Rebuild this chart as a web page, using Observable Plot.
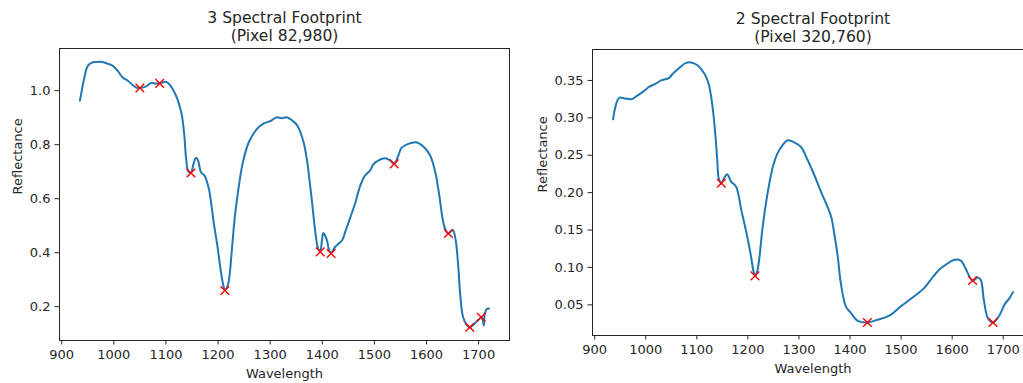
<!DOCTYPE html>
<html><head><meta charset="utf-8">
<script src="https://cdn.jsdelivr.net/npm/d3@7"></script>
<script src="https://cdn.jsdelivr.net/npm/@observablehq/plot@0.6"></script>
<style>
html,body{margin:0;padding:0;background:#fff;width:1023px;height:383px;overflow:hidden;position:relative;}
#left,#right{position:absolute;top:0;width:520px;height:383px;}
#left{left:0px} #right{left:520px}
svg{max-width:none !important;}
</style></head><body>
<div id="left"></div><div id="right"></div>
<script>
// ---- data ----
const xTicks = [900, 1000, 1100, 1200, 1300, 1400, 1500, 1600, 1700];
const xLabel = "Wavelength";
const yLabel = "Reflectance";

const fp3Title = "3 Spectral Footprint\n(Pixel 82,980)";
const fp3Wavelength = [935,945,950,958,966,975,988,998,1008,1017,1027,1036,1045,1050,1062,1071,1080,1088,1100,1109,1116,1122,1130,1135,1139,1143,1148,1153,1158,1162,1167,1174,1178,1183,1192,1199,1205,1210,1213,1217,1221,1227,1232,1237,1247,1259,1275,1288,1300,1312,1322,1333,1342,1352,1364,1370,1374,1380,1387,1392,1396,1399,1402,1405,1409,1413,1417,1425,1438,1444,1454,1463,1473,1482,1492,1498,1508,1520,1530,1538,1546,1552,1565,1580,1594,1607,1616,1624,1632,1638,1642,1647,1651,1656,1661,1665,1670,1677,1683,1688,1693,1699,1705,1708,1710,1712,1716,1720];
const fp3Reflectance = [0.963,1.062,1.092,1.104,1.106,1.107,1.100,1.092,1.072,1.049,1.037,1.021,1.010,1.010,1.016,1.028,1.027,1.027,1.033,1.018,0.995,0.969,0.914,0.840,0.742,0.700,0.697,0.730,0.752,0.740,0.699,0.686,0.667,0.631,0.508,0.422,0.336,0.280,0.262,0.270,0.300,0.422,0.530,0.606,0.729,0.809,0.859,0.879,0.887,0.901,0.898,0.901,0.890,0.871,0.810,0.750,0.693,0.594,0.471,0.415,0.405,0.440,0.473,0.465,0.446,0.410,0.399,0.422,0.446,0.477,0.532,0.582,0.649,0.686,0.705,0.727,0.742,0.750,0.742,0.729,0.760,0.788,0.803,0.809,0.793,0.760,0.705,0.619,0.514,0.478,0.471,0.480,0.483,0.446,0.348,0.237,0.163,0.133,0.124,0.130,0.139,0.151,0.160,0.150,0.130,0.176,0.192,0.193];
const fp3PeakWavelength = [1050,1088,1148,1213,1396,1417,1538,1642,1683,1705];
const fp3PeakReflectance = [1.010,1.027,0.695,0.260,0.403,0.397,0.729,0.471,0.124,0.161];
const fp3YTicks = [0.2, 0.4, 0.6, 0.8, 1.0];

const fp2Title = "2 Spectral Footprint\n(Pixel 320,760)";
const fp2Wavelength = [936,940,945,949,959,972,982,995,1008,1021,1030,1045,1053,1066,1079,1089,1102,1115,1123,1129,1135,1140,1143,1148,1153,1159,1163,1167,1177,1187,1196,1205,1211,1214,1218,1222,1229,1239,1249,1258,1268,1278,1291,1304,1317,1330,1343,1353,1363,1369,1376,1382,1392,1402,1415,1434,1454,1476,1499,1525,1545,1558,1574,1587,1603,1617,1626,1640,1650,1656,1662,1670,1680,1691,1704,1711,1719];
const fp2Reflectance = [0.298,0.313,0.324,0.327,0.326,0.325,0.329,0.335,0.342,0.346,0.350,0.353,0.359,0.367,0.3735,0.374,0.370,0.359,0.346,0.324,0.288,0.244,0.219,0.2125,0.219,0.2245,0.221,0.2147,0.208,0.177,0.150,0.119,0.095,0.0887,0.094,0.110,0.1545,0.201,0.235,0.2525,0.2636,0.270,0.267,0.261,0.2436,0.2236,0.2013,0.1858,0.168,0.1457,0.1145,0.079,0.0477,0.0389,0.0286,0.0264,0.030,0.0353,0.0477,0.0611,0.0723,0.0834,0.0967,0.1034,0.110,0.109,0.099,0.0825,0.0865,0.0834,0.0567,0.0322,0.0264,0.0344,0.052,0.0576,0.067];
const fp2PeakWavelength = [1148,1214,1434,1640,1680];
const fp2PeakReflectance = [0.2125,0.0887,0.0264,0.0825,0.0264];
const fp2YTicks = [0.05, 0.10, 0.15, 0.20, 0.25, 0.30, 0.35];

// ---- drawing ----
function pad(values, frac = 0.05) {
  const [a, b] = d3.extent(values);
  const p = (b - a) * frac;
  return [a - p, b + p];
}
const xDomain = pad(fp3Wavelength.concat(fp2Wavelength));
const FONT = "DejaVu Sans";

function panel(o) {
  const series = o.wl.map((w, i) => ({w, r: o.refl[i]}));
  const peaks = o.mwl.map((w, i) => ({w, r: o.mrefl[i]}));
  const ink = "#262626";
  return Plot.plot({
    width: 520, height: 383,
    marginLeft: o.ml, marginRight: o.mr, marginTop: o.mt, marginBottom: o.mb,
    style: {fontFamily: FONT, fontSize: "13px", color: ink, background: "white", overflow: "visible", maxWidth: "none"},
    x: {domain: xDomain},
    y: {domain: pad(o.refl)},
    marks: [
      Plot.axisX({ticks: xTicks, tickFormat: d => String(d), tickSize: 4.5, tickPadding: 5, label: null, fontSize: 13}),
      Plot.axisY({ticks: o.yTicks, tickFormat: o.yFmt, tickSize: 4.5, tickPadding: 4.5, label: null, fontSize: 13}),
      Plot.line(series, {x: "w", y: "r", stroke: "#1f77b4", strokeWidth: 2, curve: "catmull-rom"}),
      Plot.dot(peaks, {x: "w", y: "r", symbol: "times", stroke: "red", r: 4, strokeWidth: 1.4}),
      Plot.frame({stroke: ink, strokeWidth: 1}),
      Plot.text([xLabel], {frameAnchor: "bottom", lineAnchor: "middle", dy: 33, fontSize: 13, fontFamily: FONT, fill: ink}),
      Plot.text([yLabel], {frameAnchor: "left", lineAnchor: "middle", rotate: -90, dx: o.ydx, fontSize: 13, fontFamily: FONT, fill: ink}),
      Plot.text([o.title], {frameAnchor: "top", lineAnchor: "bottom", dy: -7.5, fontSize: 15.6, lineHeight: 1.17, fontFamily: FONT, fill: ink})
    ]
  });
}

document.getElementById("left").append(panel({
  wl: fp3Wavelength, refl: fp3Reflectance, mwl: fp3PeakWavelength, mrefl: fp3PeakReflectance,
  title: fp3Title, yTicks: fp3YTicks, yFmt: ".1f",
  ml: 59, mr: 11, mt: 48, mb: 43, ydx: -41.5
}));
document.getElementById("right").append(panel({
  wl: fp2Wavelength, refl: fp2Reflectance, mwl: fp2PeakWavelength, mrefl: fp2PeakReflectance,
  title: fp2Title, yTicks: fp2YTicks, yFmt: ".2f",
  ml: 72, mr: 7, mt: 49, mb: 48, ydx: -49.3
}));
</script>
</body></html>
